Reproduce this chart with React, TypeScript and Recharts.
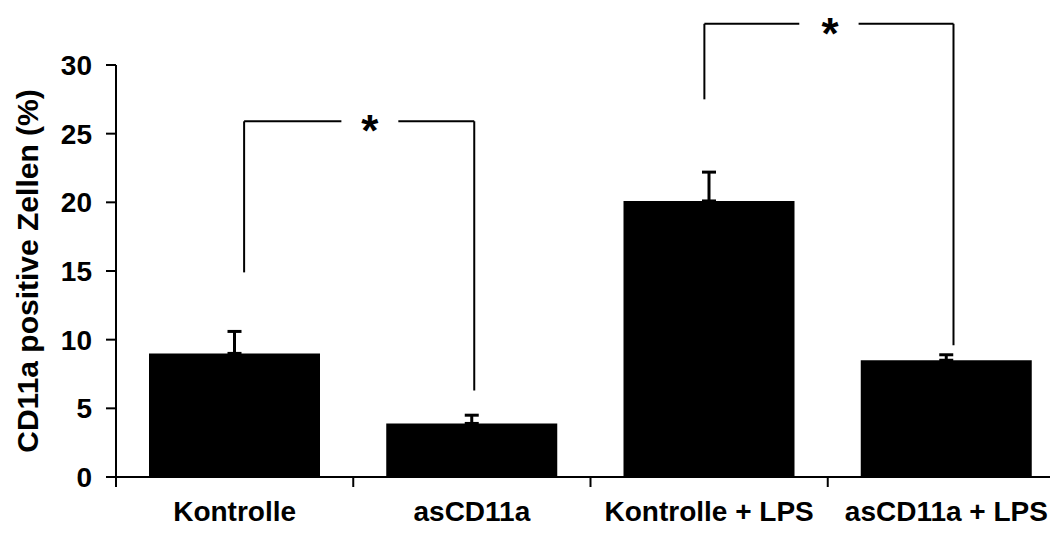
import React from 'react';
import {
  BarChart,
  Bar,
  XAxis,
  YAxis,
  ErrorBar,
  ReferenceLine,
  ReferenceDot,
  Label,
} from 'recharts';

const CATEGORIES = ['Kontrolle', 'asCD11a', 'Kontrolle + LPS', 'asCD11a + LPS'];
const POSITIONS = [0.5, 1.5, 2.5, 3.5];
const VALUES = [9.0, 3.9, 20.1, 8.5];
const ERRORS = [1.6, 0.6, 2.1, 0.4];
const Y_TICKS = [0, 5, 10, 15, 20, 25, 30];
const X_TICKS = [0, 1, 2, 3, 4];

// significance brackets: [left x, right x, bar level, left end, right end, gap from, gap to, star x]
const BRACKET_A = [0.54, 1.51, 25.9, 14.9, 6.3, 0.95, 1.19, 1.07];
const BRACKET_B = [2.48, 3.53, 33.0, 27.5, 9.6, 2.88, 3.13, 3.01];

const FONT = '"Liberation Sans", Arial, Helvetica, sans-serif';
const W = 1060;
const H = 525;
const Y_AXIS_W = 108;
const MARGIN = { top: 57, right: 3, bottom: 0, left: 0 };
const HALF_STEP = (W - Y_AXIS_W - MARGIN.right) / 8;

const data = POSITIONS.map((x, i) => ({
  x,
  name: CATEGORIES[i],
  value: VALUES[i],
  err: [0, ERRORS[i]],
}));

function CategoryTick(props: any) {
  const { x, y, payload } = props;
  const label = CATEGORIES[payload.value];
  if (!label) return null;
  return (
    <text
      x={x + HALF_STEP}
      y={y + 32}
      textAnchor="middle"
      fontFamily={FONT}
      fontWeight="bold"
      fontSize={28}
      fill="#000"
    >
      {label}
    </text>
  );
}

function Star(props: any) {
  const { viewBox } = props;
  return (
    <text
      x={viewBox.x}
      y={viewBox.y + 25}
      textAnchor="middle"
      fontFamily={FONT}
      fontWeight="bold"
      fontSize={44}
      fill="#000"
    >
      *
    </text>
  );
}

function renderBracket(b: number[], key: string) {
  const [x1, x2, level, leftEnd, rightEnd, g1, g2, sx] = b;
  const line = { stroke: '#000', strokeWidth: 2, ifOverflow: 'visible' as const };
  return [
    <ReferenceLine key={key + 'l'} {...line} segment={[{ x: x1, y: leftEnd }, { x: x1, y: level }]} />,
    <ReferenceLine key={key + 'a'} {...line} segment={[{ x: x1, y: level }, { x: g1, y: level }]} />,
    <ReferenceLine key={key + 'b'} {...line} segment={[{ x: g2, y: level }, { x: x2, y: level }]} />,
    <ReferenceLine key={key + 'r'} {...line} segment={[{ x: x2, y: level }, { x: x2, y: rightEnd }]} />,
    <ReferenceDot key={key + 's'} x={sx} y={level} r={0} fill="none" stroke="none" ifOverflow="visible">
      <Label content={Star} />
    </ReferenceDot>,
  ];
}

export default function App() {
  return (
    <div style={{ width: 1050, height: H, overflow: 'hidden', background: '#fff' }}>
      <BarChart width={W} height={H} data={data} margin={MARGIN}>
        <XAxis
          type="number"
          dataKey="x"
          domain={[0, 4]}
          ticks={X_TICKS}
          interval={0}
          height={56}
          tickSize={10}
          axisLine={{ stroke: '#000', strokeWidth: 2 }}
          tickLine={{ stroke: '#000', strokeWidth: 2 }}
          tick={<CategoryTick />}
        />
        <YAxis
          type="number"
          domain={[0, 30]}
          ticks={Y_TICKS}
          width={Y_AXIS_W}
          tickSize={10}
          tickMargin={14}
          axisLine={{ stroke: '#000', strokeWidth: 2 }}
          tickLine={{ stroke: '#000', strokeWidth: 2 }}
          tick={{ fill: '#000', fontFamily: FONT, fontWeight: 'bold', fontSize: 28 }}
        >
          <Label
            content={({ viewBox }: any) => {
              const cx = 30;
              const cy = viewBox.y + viewBox.height / 2;
              return (
                <text
                  x={cx}
                  y={cy}
                  transform={`rotate(-90, ${cx}, ${cy})`}
                  textAnchor="middle"
                  fontFamily={FONT}
                  fontWeight="bold"
                  fontSize={30}
                  fill="#000"
                >
                  CD11a positive Zellen (%)
                </text>
              );
            }}
          />
        </YAxis>
        <Bar dataKey="value" fill="#000" barSize={171} isAnimationActive={false}>
          <ErrorBar dataKey="err" direction="y" width={7} strokeWidth={3} stroke="#000" />
        </Bar>
        {renderBracket(BRACKET_A, 'a')}
        {renderBracket(BRACKET_B, 'b')}
      </BarChart>
    </div>
  );
}
